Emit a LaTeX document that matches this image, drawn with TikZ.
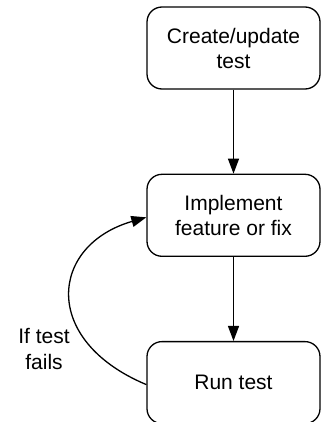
\documentclass[tikz,border=0pt]{standalone}
\usepackage{fontspec}
\setmainfont{Liberation Sans}
\usetikzlibrary{arrows.meta, positioning}

\begin{document}
\begin{tikzpicture}[
		x=1pt, y=-1pt,
		node distance=84pt,
		box/.style={
			draw,
			line width=1.3pt,
			rounded corners=15pt,
			minimum width=173pt,
			minimum height=82pt,
			inner sep=0pt,
			align=center,
			font=\fontsize{21}{25}\selectfont
		},
		arrow/.style={-{Triangle[length=15pt, width=11pt]}, line width=1.3pt}
		]
		
		\useasboundingbox (0,0) rectangle (321,422);
		
		\node[box] (create) at (233.5,48) {Create/update\\test};
		\node[box, below=of create] (implement) {Implement\\feature or fix};
		\node[box, below=of implement] (run) {Run test};
		\node[align=center, font=\fontsize{21}{25}\selectfont] (fails) at (44,349) {If test\\fails};
		
		\draw[arrow] (create) -- (implement);
		\draw[arrow] (implement) -- (run);
		\draw[arrow] ([yshift=-2pt]run.west) .. controls (40,340) and (50,245) .. ([yshift=-2pt]implement.west);
		
	\end{tikzpicture}
\end{document}
